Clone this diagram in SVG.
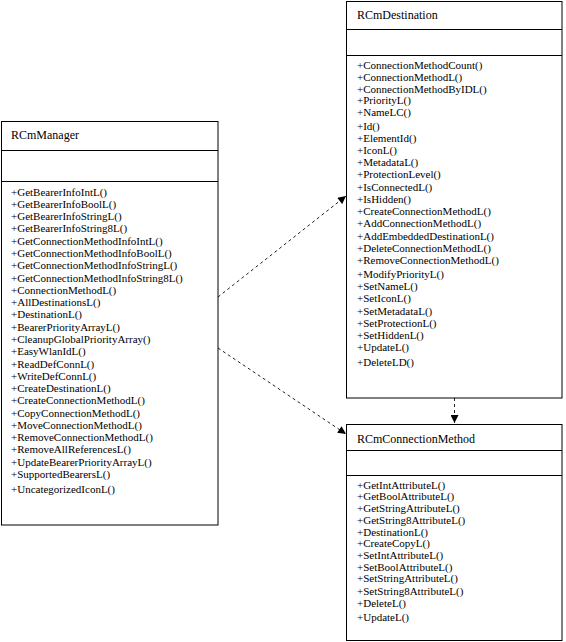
<svg xmlns="http://www.w3.org/2000/svg" width="566" height="642" viewBox="0 0 566 642">
<style>
.box{fill:#fff;stroke:#000;stroke-width:1}
.sep{stroke:#000;stroke-width:1}
.t{font-family:"Liberation Serif","Times New Roman",serif;font-size:12px;fill:#000}
.m{font-family:"Liberation Serif","Times New Roman",serif;font-size:11px;fill:#000}
.dash{fill:none;stroke:#222;stroke-width:1;stroke-dasharray:3 3}
</style>
<defs>
<marker id="ah" viewBox="0 0 10 10" refX="10" refY="5" markerWidth="9" markerHeight="8" markerUnits="userSpaceOnUse" orient="auto">
<path d="M0,0 L10,5 L0,10 z" fill="#000"/>
</marker>
</defs>
<rect width="566" height="642" fill="#fff"/>
<g id="connectors">
<line class="dash" x1="218" y1="297" x2="346" y2="196" marker-end="url(#ah)"/>
<line class="dash" x1="218" y1="348" x2="346" y2="434" marker-end="url(#ah)"/>
<line class="dash" x1="454.5" y1="398" x2="454.5" y2="423" marker-end="url(#ah)"/>
</g>
<g id="RCmManager">
<rect class="box" x="1.5" y="121.5" width="216.5" height="403.5"/>
<line class="sep" x1="1.5" y1="150.5" x2="218" y2="150.5"/>
<line class="sep" x1="1.5" y1="181.5" x2="218" y2="181.5"/>
<text class="t" x="11" y="139">RCmManager</text>
<text class="m" x="11" y="196">+GetBearerInfoIntL()</text>
<text class="m" x="11" y="208">+GetBearerInfoBoolL()</text>
<text class="m" x="11" y="220">+GetBearerInfoStringL()</text>
<text class="m" x="11" y="232">+GetBearerInfoString8L()</text>
<text class="m" x="11" y="245">+GetConnectionMethodInfoIntL()</text>
<text class="m" x="11" y="257">+GetConnectionMethodInfoBoolL()</text>
<text class="m" x="11" y="269">+GetConnectionMethodInfoStringL()</text>
<text class="m" x="11" y="282">+GetConnectionMethodInfoString8L()</text>
<text class="m" x="11" y="294">+ConnectionMethodL()</text>
<text class="m" x="11" y="306">+AllDestinationsL()</text>
<text class="m" x="11" y="318">+DestinationL()</text>
<text class="m" x="11" y="331">+BearerPriorityArrayL()</text>
<text class="m" x="11" y="343">+CleanupGlobalPriorityArray()</text>
<text class="m" x="11" y="355">+EasyWlanIdL()</text>
<text class="m" x="11" y="368">+ReadDefConnL()</text>
<text class="m" x="11" y="380">+WriteDefConnL()</text>
<text class="m" x="11" y="392">+CreateDestinationL()</text>
<text class="m" x="11" y="404">+CreateConnectionMethodL()</text>
<text class="m" x="11" y="417">+CopyConnectionMethodL()</text>
<text class="m" x="11" y="429">+MoveConnectionMethodL()</text>
<text class="m" x="11" y="441">+RemoveConnectionMethodL()</text>
<text class="m" x="11" y="453">+RemoveAllReferencesL()</text>
<text class="m" x="11" y="466">+UpdateBearerPriorityArrayL()</text>
<text class="m" x="11" y="478">+SupportedBearersL()</text>
<text class="m" x="11" y="493">+UncategorizedIconL()</text>
</g>
<g id="RCmDestination">
<rect class="box" x="346.5" y="1.5" width="215.5" height="396.5"/>
<line class="sep" x1="346.5" y1="29.5" x2="562" y2="29.5"/>
<line class="sep" x1="346.5" y1="55.5" x2="562" y2="55.5"/>
<text class="t" x="357" y="19">RCmDestination</text>
<text class="m" x="357" y="69">+ConnectionMethodCount()</text>
<text class="m" x="357" y="81">+ConnectionMethodL()</text>
<text class="m" x="357" y="93">+ConnectionMethodByIDL()</text>
<text class="m" x="357" y="104">+PriorityL()</text>
<text class="m" x="357" y="116">+NameLC()</text>
<text class="m" x="357" y="130">+Id()</text>
<text class="m" x="357" y="142">+ElementId()</text>
<text class="m" x="357" y="154">+IconL()</text>
<text class="m" x="357" y="166">+MetadataL()</text>
<text class="m" x="357" y="178">+ProtectionLevel()</text>
<text class="m" x="357" y="191">+IsConnectedL()</text>
<text class="m" x="357" y="203">+IsHidden()</text>
<text class="m" x="357" y="215">+CreateConnectionMethodL()</text>
<text class="m" x="357" y="227">+AddConnectionMethodL()</text>
<text class="m" x="357" y="240">+AddEmbeddedDestinationL()</text>
<text class="m" x="357" y="252">+DeleteConnectionMethodL()</text>
<text class="m" x="357" y="264">+RemoveConnectionMethodL()</text>
<text class="m" x="357" y="278">+ModifyPriorityL()</text>
<text class="m" x="357" y="290">+SetNameL()</text>
<text class="m" x="357" y="302">+SetIconL()</text>
<text class="m" x="357" y="315">+SetMetadataL()</text>
<text class="m" x="357" y="327">+SetProtectionL()</text>
<text class="m" x="357" y="339">+SetHiddenL()</text>
<text class="m" x="357" y="351">+UpdateL()</text>
<text class="m" x="357" y="366">+DeleteLD()</text>
</g>
<g id="RCmConnectionMethod">
<rect class="box" x="346.5" y="424.5" width="215.5" height="216"/>
<line class="sep" x1="346.5" y1="450.5" x2="562" y2="450.5"/>
<line class="sep" x1="346.5" y1="475.5" x2="562" y2="475.5"/>
<text class="t" x="357" y="443">RCmConnectionMethod</text>
<text class="m" x="357" y="489">+GetIntAttributeL()</text>
<text class="m" x="357" y="500">+GetBoolAttributeL()</text>
<text class="m" x="357" y="512">+GetStringAttributeL()</text>
<text class="m" x="357" y="524">+GetString8AttributeL()</text>
<text class="m" x="357" y="536">+DestinationL()</text>
<text class="m" x="357" y="547">+CreateCopyL()</text>
<text class="m" x="357" y="559">+SetIntAttributeL()</text>
<text class="m" x="357" y="571">+SetBoolAttributeL()</text>
<text class="m" x="357" y="582">+SetStringAttributeL()</text>
<text class="m" x="357" y="595">+SetString8AttributeL()</text>
<text class="m" x="357" y="607">+DeleteL()</text>
<text class="m" x="357" y="621">+UpdateL()</text>
</g>
</svg>
